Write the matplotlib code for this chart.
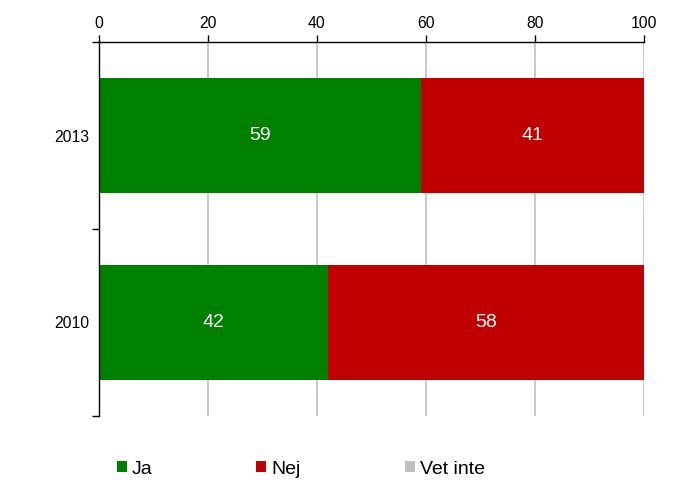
import numpy as np
import matplotlib.pyplot as plt
from matplotlib.patches import Patch

plt.rcParams['font.family'] = ['Liberation Sans', 'DejaVu Sans']

years = ['2013', '2010']
ja = [59, 42]
nej = [41, 58]
vet_inte = [0, 0]
series_names = ['Ja', 'Nej', 'Vet inte']
colors = ['#008000', '#c00000', '#c0c0c0']

fig = plt.figure(figsize=(6.74, 4.97), dpi=100)
ax = fig.add_axes([99/674, 1-416/497, 545/674, 374/497])

y = np.arange(len(years)) + 0.5
left = np.zeros(len(years))
for name, vals, c in zip(series_names, [ja, nej, vet_inte], colors):
    bars = ax.barh(y, vals, left=left, height=0.62, color=c, zorder=2)
    labels = [str(v) if v > 0 else '' for v in vals]
    ax.bar_label(bars, labels=labels, label_type='center', color='white', fontsize=14)
    left += np.array(vals)

ax.set_xlim(0, 100)
ax.set_ylim(len(years), 0)
ax.set_xticks(range(0, 101, 20))
ax.xaxis.tick_top()
ax.tick_params(axis='x', direction='out', length=5, width=1, labelsize=11.3, pad=3, color='black')
ax.set_yticks(range(len(years) + 1))
ax.set_yticklabels([])
ax.set_yticks(y, minor=True)
ax.set_yticklabels(years, minor=True)
ax.tick_params(axis='y', which='major', direction='out', length=5, width=1)
ax.tick_params(axis='y', which='minor', length=0, labelsize=11.3, pad=7)

ax.grid(axis='x', color='#c0c0c0', linewidth=1.2, zorder=0)
ax.set_axisbelow(True)
for s in ['right', 'bottom']:
    ax.spines[s].set_visible(False)
for s in ['left', 'top']:
    ax.spines[s].set_color('black')
    ax.spines[s].set_linewidth(1)
    ax.spines[s].set_zorder(3)

# legend entries placed like the original
leg_x = [117, 256, 405]
for name, c, lx in zip(series_names, colors, leg_x):
    fig.legend(handles=[Patch(facecolor=c, edgecolor='none')], labels=[name],
               loc='center left', bbox_to_anchor=(lx/674, 1-469/497),
               frameon=False, fontsize=14, handlelength=0.52, handleheight=0.52,
               handletextpad=0.25, borderpad=0, borderaxespad=0)

fig.savefig('out.png', dpi=100)
